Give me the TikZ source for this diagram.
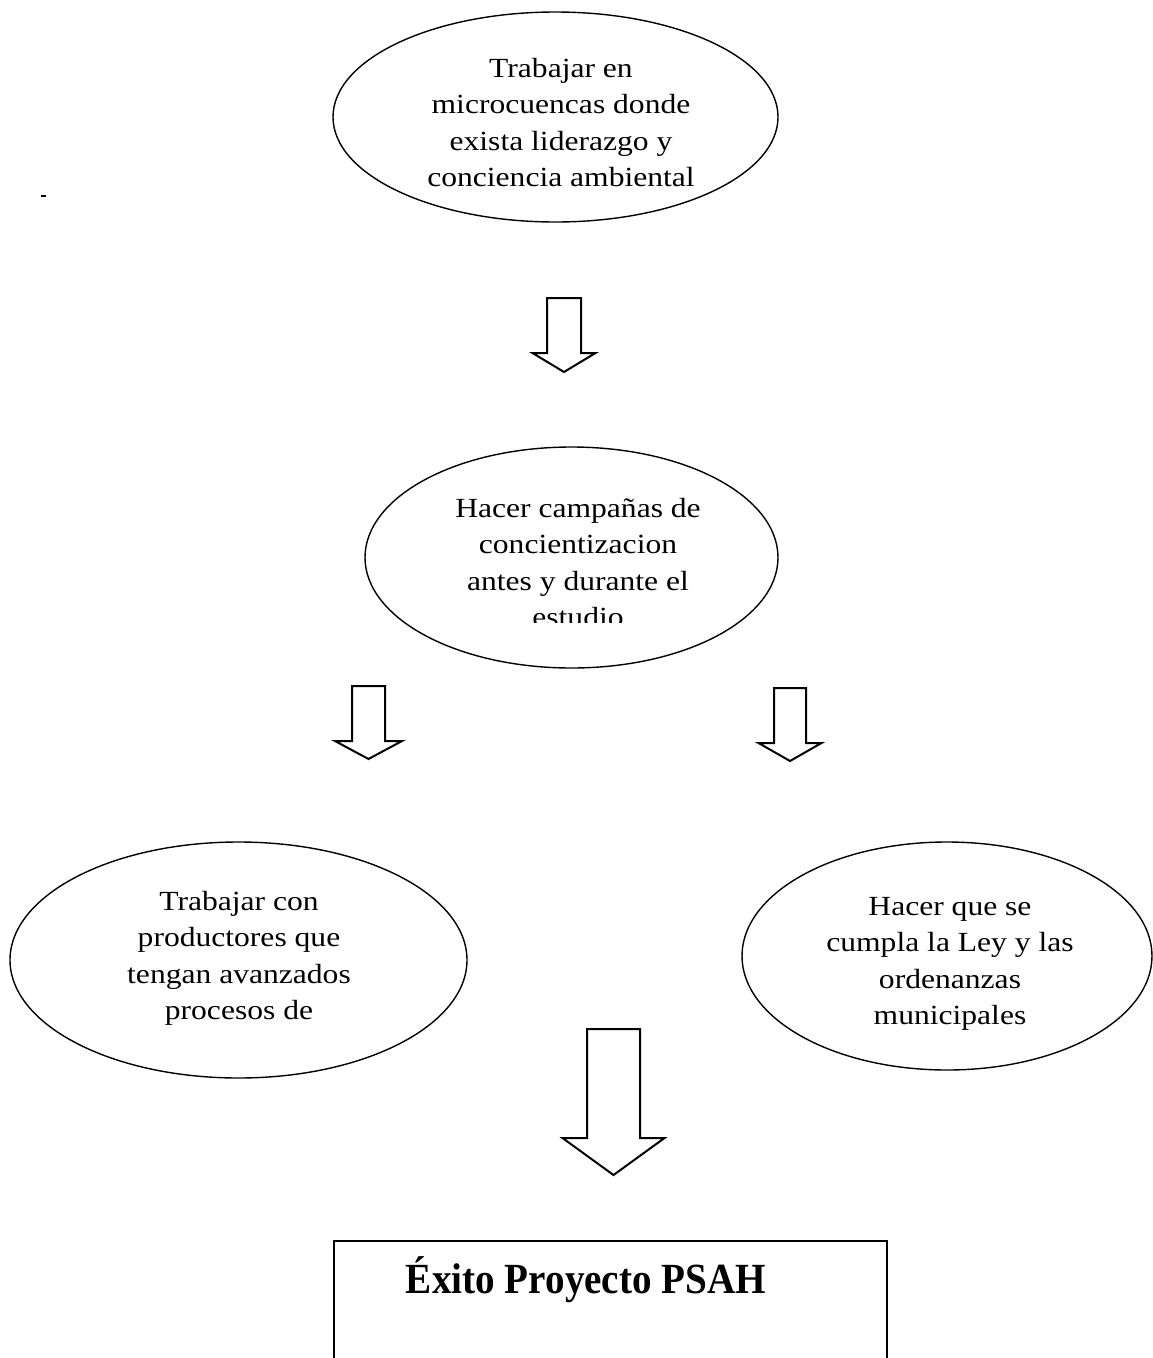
\documentclass[tikz,border=0pt]{standalone}
\usepackage{fontspec}
\setmainfont{Liberation Serif}
\usetikzlibrary{shapes.geometric}

% centred multi-line label whose base anchor is the first baseline
\newcommand\txtlines[1]{\scalebox{1.14}[1]{\begin{tabular}[t]{@{}c@{}}#1\end{tabular}}}

% hollow block arrow pointing down:
% #1 centre x, #2 top y, #3 half shaft width, #4 half head width, #5 head base y, #6 tip y
\newcommand\blockdown[6]{%
  \draw[blockarrow] (#1-#3,-#2) -- (#1+#3,-#2) -- (#1+#3,-#5) -- (#1+#4,-#5)
    -- (#1,-#6) -- (#1-#4,-#5) -- (#1-#3,-#5) -- cycle;}

\begin{document}
\begin{tikzpicture}[x=1pt,y=1pt,
  bubble/.style={draw=black, line width=1.4pt, ellipse, inner sep=0pt},
  bodytext/.style={inner sep=0pt, anchor=base,
    font=\fontsize{27.7}{36.5}\selectfont},
  blockarrow/.style={draw=black, line width=2pt, line join=miter, fill=white},
  goalbox/.style={draw=black, line width=2pt, rectangle, inner sep=0pt, anchor=north west},
  goaltext/.style={inner sep=0pt, anchor=base,
    font=\fontsize{43}{48}\selectfont\bfseries}]

\useasboundingbox (0,0) rectangle (1153,-1358);
\clip (0,0) rectangle (1153,-1358);
\fill[white] (0,0) rectangle (1153,-1358);

% first step
\node[bubble, minimum width=445pt, minimum height=210pt] (e1) at (555.5,-117) {};
\node[bodytext] (t1) at (561,-77) {\txtlines{Trabajar en\\microcuencas donde\\exista liderazgo y\\conciencia ambiental}};

\blockdown{564}{298}{17}{31.5}{353}{372}

% second step, last line partly hidden by the bubble outline
\node[bubble, minimum width=413pt, minimum height=221pt] (e2) at (571.5,-557.5) {};
\begin{scope}
  \clip (300,-440) rectangle (850,-622);
  \node[bodytext] (t2) at (578,-517) {\txtlines{Hacer campañas de\\concientizacion\\antes y durante el\\estudio}};
\end{scope}

\blockdown{368.5}{686}{16.5}{33.5}{741}{759}
\blockdown{790}{688}{16}{31.5}{743}{761}

% two parallel actions
\node[bubble, minimum width=457pt, minimum height=236pt] (e3) at (238.5,-960) {};
\node[bodytext] (t3) at (239,-910) {\txtlines{Trabajar con\\productores que\\tengan avanzados\\procesos de}};

\node[bubble, minimum width=410pt, minimum height=228pt] (e4) at (947,-956) {};
\node[bodytext] (t4) at (950,-915) {\txtlines{Hacer que se\\cumpla la Ley y las\\ordenanzas\\municipales}};

\blockdown{613.5}{1029}{26.5}{51}{1138}{1175}

% goal
\node[goalbox, minimum width=553pt, minimum height=200pt] (goal) at (333,-1240) {};
\node[goaltext] (goaltxt) at (586,-1293) {\scalebox{0.91}[1]{Éxito Proyecto PSAH}};

% small mark in the left margin
\draw[line width=2pt] (41,-196) -- (46,-196);
\end{tikzpicture}
\end{document}
